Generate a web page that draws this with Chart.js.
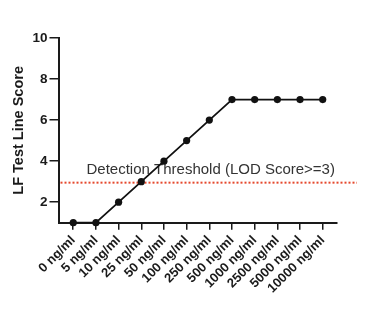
<!DOCTYPE html>
<html>
<head>
<meta charset="utf-8">
<script src="https://cdn.jsdelivr.net/npm/chart.js@4.4.1/dist/chart.umd.min.js"></script>
<style>
  html, body { margin: 0; padding: 0; background: #ffffff; }
  #c { display: block; }
</style>
</head>
<body>
<canvas id="c" width="372" height="328"></canvas>
<script>
const categories = ["0 ng/ml", "5 ng/ml", "10 ng/ml", "25 ng/ml", "50 ng/ml", "100 ng/ml", "250 ng/ml", "500 ng/ml", "1000 ng/ml", "2500 ng/ml", "5000 ng/ml", "10000 ng/ml"];
const scores = [1, 1, 2, 3, 4, 5, 6, 7, 7, 7, 7, 7];
const yTicks = [2, 4, 6, 8, 10];
const threshold = 3;
const thresholdLabel = "Detection Threshold (LOD Score>=3)";
const yTitle = "LF Test Line Score";

const FONT = "'Liberation Sans', Arial, Helvetica, sans-serif";

const points = categories.map((c, i) => ({ x: i, y: scores[i] }));

const thresholdPlugin = {
  id: 'threshold',
  beforeDatasetsDraw(chart) {
    const ctx = chart.ctx;
    const y = chart.scales.y.getPixelForValue(threshold);
    const area = chart.chartArea;
    ctx.save();
    ctx.strokeStyle = '#e5482c';
    ctx.lineWidth = 2;
    ctx.setLineDash([2, 2]);
    ctx.beginPath();
    ctx.moveTo(area.left + 2, y + 1);
    ctx.lineTo(area.right + 20, y + 1);
    ctx.stroke();
    ctx.setLineDash([]);
    ctx.fillStyle = '#333333';
    ctx.font = "15px " + FONT;
    ctx.textAlign = 'left';
    ctx.textBaseline = 'alphabetic';
    ctx.fillText(thresholdLabel, area.left + 28, y - 8);
    ctx.restore();
  }
};

new Chart(document.getElementById('c'), {
  type: 'line',
  data: {
    datasets: [{
      data: points,
      borderColor: '#111111',
      backgroundColor: '#111111',
      borderWidth: 1.8,
      pointRadius: 3.6,
      pointBackgroundColor: '#111111',
      pointBorderWidth: 0,
      tension: 0,
      clip: false
    }]
  },
  options: {
    responsive: false,
    animation: false,
    devicePixelRatio: 1,
    layout: { padding: { left: 6, top: 38, right: 35, bottom: 0 } },
    plugins: {
      legend: { display: false },
      tooltip: { enabled: false }
    },
    scales: {
      x: {
        type: 'linear',
        min: -0.65,
        max: 11.63,
        border: { display: true, color: '#1a1a1a', width: 2 },
        grid: { display: true, drawOnChartArea: false, drawTicks: true, tickLength: 7, color: '#1a1a1a', lineWidth: 1.5 },
        afterBuildTicks(scale) { scale.ticks = categories.map((c, i) => ({ value: i })); },
        ticks: {
          autoSkip: false,
          minRotation: 45,
          maxRotation: 45,
          padding: 3,
          color: '#1a1a1a',
          font: { family: FONT, size: 13, weight: 'bold' },
          callback: (v) => categories[v]
        },
        afterFit(scale) { scale.height = 105.3; }
      },
      y: {
        type: 'linear',
        min: 1,
        max: 10,
        border: { display: true, color: '#1a1a1a', width: 2 },
        grid: { display: true, drawOnChartArea: false, drawTicks: true, tickLength: 9, color: '#1a1a1a', lineWidth: 1.5 },
        ticks: {
          padding: 2,
          color: '#1a1a1a',
          font: { family: FONT, size: 13.5, weight: 'bold' }
        },
        afterBuildTicks(scale) { scale.ticks = yTicks.map(v => ({ value: v })); },
        title: {
          display: true,
          text: yTitle,
          color: '#1a1a1a',
          padding: { top: 4, bottom: 4 },
          font: { family: FONT, size: 14.5, weight: 'bold' }
        },
        afterFit(scale) { scale.width = 52.5; }
      }
    }
  },
  plugins: [thresholdPlugin]
});
</script>
</body>
</html>
